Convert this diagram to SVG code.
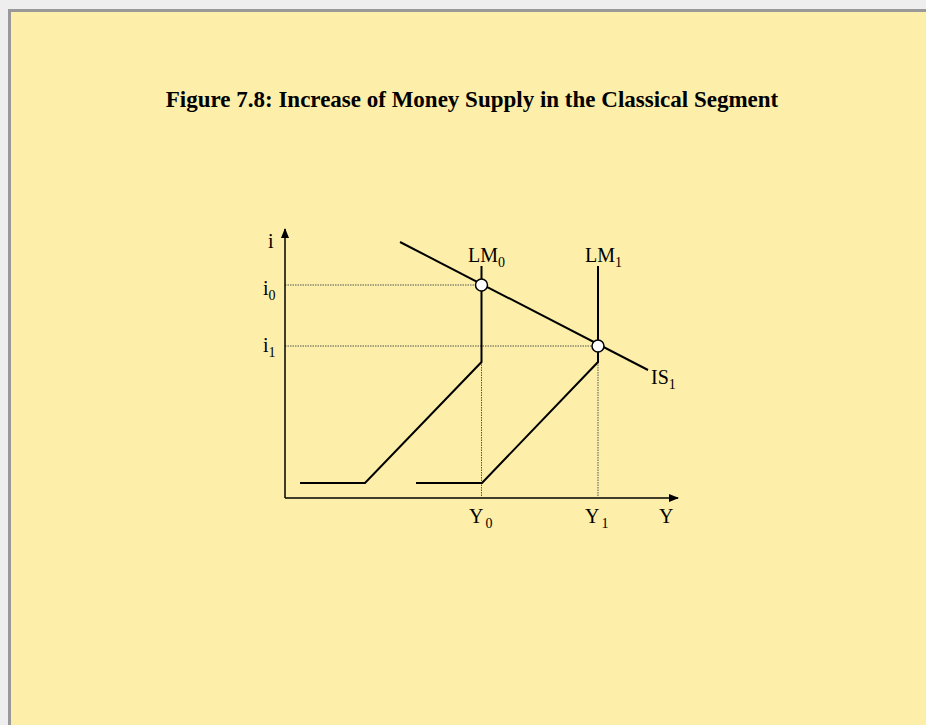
<svg xmlns="http://www.w3.org/2000/svg" width="926" height="725" viewBox="0 0 926 725">
<style>
.lbl{font-family:"Liberation Serif","Times New Roman",serif;font-size:20px;fill:#000}
.sub{font-size:14px}
.title{font-family:"Liberation Serif","Times New Roman",serif;font-size:23px;font-weight:bold;fill:#000}
.curve{fill:none;stroke:#000;stroke-width:2}
.axis{fill:none;stroke:#000;stroke-width:1.5}
.dot{fill:none;stroke:#555;stroke-width:1;stroke-dasharray:1.5 1}
.pt{fill:#fff;stroke:#000;stroke-width:1.5}
</style>
<defs>
<marker id="arr" markerWidth="10" markerHeight="10" refX="9" refY="5" orient="auto" markerUnits="userSpaceOnUse">
<path d="M0,1 L10,5 L0,9 Z" fill="#000"/>
</marker>
</defs>
<rect x="0" y="0" width="926" height="725" fill="#eeeeee"/>
<rect x="9.5" y="10.5" width="930" height="730" fill="#fdefa9" stroke="#999" stroke-width="3"/>
<text class="title" x="472" y="107" text-anchor="middle">Figure 7.8: Increase of Money Supply in the Classical Segment</text>
<g id="connectors">
<line class="dot" x1="285" y1="285" x2="481" y2="285"/>
<line class="dot" x1="285" y1="346" x2="598" y2="346"/>
<line class="dot" x1="481.5" y1="362" x2="481.5" y2="497"/>
<line class="dot" x1="598" y1="362" x2="598" y2="497"/>
</g>
<g id="axes">
<line class="axis" x1="285" y1="498" x2="285" y2="229" marker-end="url(#arr)"/>
<line class="axis" x1="285" y1="498" x2="678" y2="498" marker-end="url(#arr)"/>
</g>
<g id="LM0">
<polyline class="curve" points="300,483 365,483 481.5,362 481.5,266"/>
</g>
<g id="LM1">
<polyline class="curve" points="416,483 482,483 598,362 598,266"/>
</g>
<g id="IS1">
<line class="curve" x1="400" y1="242" x2="648" y2="370"/>
</g>
<g id="E0"><circle class="pt" cx="481.5" cy="285" r="6"/></g>
<g id="E1"><circle class="pt" cx="598" cy="346" r="6"/></g>
<g id="labels">
<text class="lbl" x="268" y="248">i</text>
<text class="lbl" x="263" y="295">i<tspan class="sub" dy="5">0</tspan></text>
<text class="lbl" x="263" y="352">i<tspan class="sub" dy="5">1</tspan></text>
<text class="lbl" x="468" y="262">LM<tspan class="sub" dy="5">0</tspan></text>
<text class="lbl" x="585" y="262">LM<tspan class="sub" dy="5">1</tspan></text>
<text class="lbl" x="651" y="384">IS<tspan class="sub" dy="5">1</tspan></text>
<text class="lbl" x="469" y="523">Y<tspan class="sub" dx="2" dy="5">0</tspan></text>
<text class="lbl" x="585" y="523">Y<tspan class="sub" dx="2" dy="5">1</tspan></text>
<text class="lbl" x="659" y="523">Y</text>
</g>
</svg>
